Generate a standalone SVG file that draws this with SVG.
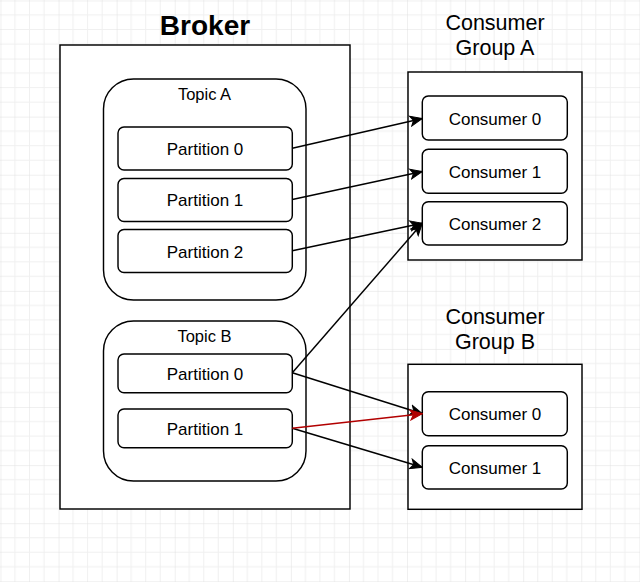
<svg xmlns="http://www.w3.org/2000/svg" width="640" height="582" viewBox="0 0 640 582">
<style>
.box{fill:#fff;stroke:#000;stroke-width:1.45}
.t{font-family:"Liberation Sans",Arial,sans-serif;fill:#000;text-anchor:middle}
.s{font-size:17px}
.tp{font-size:16.5px}
.h{font-size:21.5px}
.c{fill:none;stroke:#000;stroke-width:1.45}
.red{stroke:#b20000}
</style>
<defs>
<pattern id="grid" patternUnits="userSpaceOnUse" x="0.48" y="0.48" width="58.08" height="58.08">
<path d="M14.52,0V58.08M29.04,0V58.08M43.56,0V58.08M0,14.52H58.08M0,29.04H58.08M0,43.56H58.08" stroke="#f0f0f0" stroke-width="1" fill="none"/>
<path d="M0,0V58.08M0,0H58.08" stroke="#e0e0e0" stroke-width="1" fill="none"/>
</pattern>
<marker id="ah" markerUnits="userSpaceOnUse" markerWidth="14" markerHeight="12" refX="13" refY="6" orient="auto" viewBox="0 0 14 12">
<path d="M1,1 L13,6 L1,11 L4,6 Z" fill="#000" stroke="#000" stroke-width="1"/>
</marker>
<marker id="ahr" markerUnits="userSpaceOnUse" markerWidth="14" markerHeight="12" refX="13" refY="6" orient="auto" viewBox="0 0 14 12">
<path d="M1,1 L13,6 L1,11 L4,6 Z" fill="#b20000" stroke="#b20000" stroke-width="1"/>
</marker>
</defs>
<rect width="640" height="582" fill="#fff"/>
<rect width="640" height="582" fill="url(#grid)"/>

<g id="broker">
<rect class="box" x="60" y="45" width="290" height="464"/>
<text class="t" x="205" y="35" font-size="28" font-weight="bold">Broker</text>
</g>
<g id="topicA">
<rect class="box" x="103.5" y="79" width="202.5" height="221" rx="30"/>
<text class="t tp" x="204.5" y="100">Topic A</text>
</g>
<g id="topicA-p0">
<rect class="box" x="118" y="127" width="174.3" height="43" rx="6"/>
<text class="t s" x="205" y="154.5">Partition 0</text>
</g>
<g id="topicA-p1">
<rect class="box" x="118" y="178.5" width="174.3" height="43" rx="6"/>
<text class="t s" x="205" y="206">Partition 1</text>
</g>
<g id="topicA-p2">
<rect class="box" x="118" y="229.5" width="174.3" height="43" rx="6"/>
<text class="t s" x="205" y="257.5">Partition 2</text>
</g>
<g id="topicB">
<rect class="box" x="103.5" y="321" width="202.5" height="160" rx="30"/>
<text class="t tp" x="204.5" y="342">Topic B</text>
</g>
<g id="topicB-p0">
<rect class="box" x="118" y="354" width="174.3" height="38.7" rx="6"/>
<text class="t s" x="205" y="379.5">Partition 0</text>
</g>
<g id="topicB-p1">
<rect class="box" x="118" y="409" width="174.3" height="38.7" rx="6"/>
<text class="t s" x="205" y="434.5">Partition 1</text>
</g>

<g id="groupA">
<text class="t h" x="495" y="30">Consumer</text>
<text class="t h" x="495" y="55">Group A</text>
<rect class="box" x="408" y="72" width="174" height="188"/>
</g>
<g id="groupA-c0">
<rect class="box" x="422.3" y="96" width="145" height="44" rx="6"/>
<text class="t s" x="495" y="124.5">Consumer 0</text>
</g>
<g id="groupA-c1">
<rect class="box" x="422.3" y="149.3" width="145" height="44" rx="6"/>
<text class="t s" x="495" y="177.5">Consumer 1</text>
</g>
<g id="groupA-c2">
<rect class="box" x="422.3" y="201.7" width="145" height="43.3" rx="6"/>
<text class="t s" x="495" y="229.5">Consumer 2</text>
</g>

<g id="groupB">
<text class="t h" x="495" y="324">Consumer</text>
<text class="t h" x="495" y="349.3">Group B</text>
<rect class="box" x="408" y="364.3" width="174" height="145"/>
</g>
<g id="groupB-c0">
<rect class="box" x="422.3" y="391.7" width="145" height="44" rx="6"/>
<text class="t s" x="495" y="420">Consumer 0</text>
</g>
<g id="groupB-c1">
<rect class="box" x="422.3" y="445.7" width="145" height="43.3" rx="6"/>
<text class="t s" x="495" y="473.5">Consumer 1</text>
</g>

<g id="connectors">
<path class="c" d="M292.3,148.3 L422.3,118.5" marker-end="url(#ah)"/>
<path class="c" d="M292.3,199.5 L422.3,171.5" marker-end="url(#ah)"/>
<path class="c" d="M292.3,250.7 L422.3,223.3" marker-end="url(#ah)"/>
<path class="c" d="M292.3,372.7 L422.3,223.3" marker-end="url(#ah)"/>
<path class="c" d="M292.3,372.7 L422.3,413.7" marker-end="url(#ah)"/>
<path class="c" d="M292.3,428.3 L422.3,467.3" marker-end="url(#ah)"/>
<path class="c red" d="M292.3,428.3 L422.3,413.7" marker-end="url(#ahr)"/>
</g>
</svg>
